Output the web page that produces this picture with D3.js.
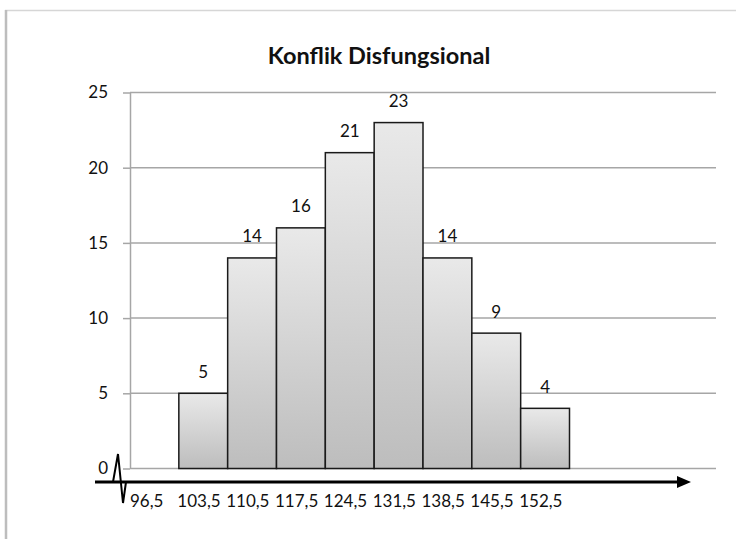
<!DOCTYPE html>
<html>
<head>
<meta charset="utf-8">
<script src="https://cdn.jsdelivr.net/npm/d3@7"></script>
<style>
  body { margin: 0; background: #fff; }
  svg { display: block; }
  text { font-family: Lato, "Open Sans", sans-serif; fill: #111; }
</style>
</head>
<body>
<svg width="736" height="539"></svg>
<script>
// class boundaries (shown under the arrow) and frequencies per class
const boundaries = ['96,5', '103,5', '110,5', '117,5', '124,5', '131,5', '138,5', '145,5', '152,5'];
const frequencies = [5, 14, 16, 21, 23, 14, 9, 4];
const yTicks = [0, 5, 10, 15, 20, 25];
const slots = d3.range(12); // 12 equal columns across the plot, bars start at slot 1

const svg = d3.select('svg');

// frame of the chart object (only top + left edges are visible)
svg.append('line').attr('x1', 5).attr('x2', 736).attr('y1', 10.5).attr('y2', 10.5)
  .attr('stroke', '#d6d6d6').attr('stroke-width', 1.5);
svg.append('line').attr('x1', 6).attr('x2', 6).attr('y1', 10).attr('y2', 539)
  .attr('stroke', '#bdbdbd').attr('stroke-width', 2.5);

const plotLeft = 130, plotRight = 716, plotTop = 92.5, plotBottom = 468.5;

const xScale = d3.scaleBand()
  .domain(slots)
  .range([plotLeft, plotRight])
  .padding(0);

const yScale = d3.scaleLinear()
  .domain([0, 25])
  .range([plotBottom, plotTop]);

// title
svg.append('text')
  .attr('x', 379).attr('y', 64)
  .attr('text-anchor', 'middle')
  .style('font-weight', 'bold')
  .style('font-size', '23.5px')
  .text('Konflik Disfungsional');

// gridlines + left axis
const yAxis = svg.append('g')
  .attr('transform', 'translate(' + plotLeft + ',0)')
  .call(d3.axisLeft(yScale).tickValues(yTicks).tickSize(7).tickPadding(15)
    .tickSizeOuter(0));
yAxis.select('.domain').attr('stroke', '#a6a6a6').attr('stroke-width', 1.5);
yAxis.selectAll('.tick line').attr('stroke', '#a6a6a6').attr('stroke-width', 1.5);
yAxis.selectAll('.tick text').style('font-size', '17px').attr('fill', '#111')
  .style('font-family', 'Lato, sans-serif');

svg.append('g')
  .selectAll('line')
  .data(yTicks)
  .enter()
  .append('line')
  .attr('x1', plotLeft).attr('x2', plotRight)
  .attr('y1', d => yScale(d)).attr('y2', d => yScale(d))
  .attr('stroke', '#a6a6a6').attr('stroke-width', 1.5);

// bar gradient
const grad = svg.append('defs').append('linearGradient')
  .attr('id', 'barFill').attr('x1', 0).attr('y1', 0).attr('x2', 0).attr('y2', 1);
grad.append('stop').attr('offset', '0%').attr('stop-color', '#e9e9e9');
grad.append('stop').attr('offset', '100%').attr('stop-color', '#bdbdbd');

svg.selectAll('.bar')
  .data(frequencies)
  .enter()
  .append('rect')
  .classed('bar', true)
  .attr('x', (d, i) => xScale(i + 1))
  .attr('width', xScale.bandwidth())
  .attr('y', d => yScale(d))
  .attr('height', d => plotBottom - yScale(d))
  .attr('fill', 'url(#barFill)')
  .attr('stroke', '#1a1a1a')
  .attr('stroke-width', 1.5);

svg.selectAll('.val')
  .data(frequencies)
  .enter()
  .append('text')
  .attr('x', (d, i) => xScale(i + 1) + xScale.bandwidth() / 2)
  .attr('y', d => yScale(d) - 15.5)
  .attr('text-anchor', 'middle')
  .style('font-size', '17px')
  .text(d => d);

// hand-drawn arrow axis with break mark
const ay = plotBottom + 13.5;
svg.append('path')
  .attr('d', 'M95,' + ay + 'H113L118,' + (ay - 28) + 'L123,' + (ay + 21) + 'L126,' + ay)
  .attr('fill', 'none').attr('stroke', '#000').attr('stroke-width', 2)
  .attr('stroke-linejoin', 'miter');
svg.append('line')
  .attr('x1', 95).attr('x2', 680).attr('y1', ay).attr('y2', ay)
  .attr('stroke', '#000').attr('stroke-width', 3);
svg.append('path')
  .attr('d', 'M677,' + (ay - 6) + 'L691,' + ay + 'L677,' + (ay + 6) + 'Z')
  .attr('fill', '#000');

svg.selectAll('.bound')
  .data(boundaries)
  .enter()
  .append('text')
  .attr('x', (d, i) => xScale(i) + (i === 0 ? 0 : -1.5))
  .attr('y', 507)
  .style('font-size', '17px')
  .text(d => d);
</script>
</body>
</html>
